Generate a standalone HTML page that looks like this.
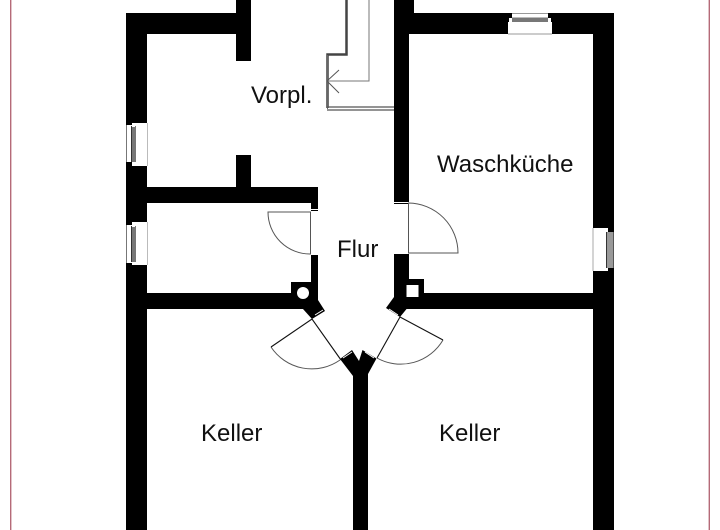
<!DOCTYPE html>
<html>
<head>
<meta charset="utf-8">
<style>
html,body{margin:0;padding:0;background:#fff}
svg{display:block}
text{font-family:"Liberation Sans",sans-serif;font-size:24px;fill:#111}
</style>
</head>
<body>
<svg width="720" height="530" viewBox="0 0 720 530" xmlns="http://www.w3.org/2000/svg">
<rect width="720" height="530" fill="#fff"/>
<!-- frame -->
<rect x="10" y="0" width="1.4" height="530" fill="#b56a78"/>
<rect x="708.6" y="0" width="1.4" height="530" fill="#b56a78"/>
<!-- walls -->
<g fill="#000">
<rect x="126" y="13" width="21" height="517"/>
<rect x="126" y="13" width="110" height="21"/>
<rect x="236" y="0" width="15" height="61"/>
<rect x="236" y="155" width="15" height="40"/>
<rect x="147" y="187" width="171" height="16"/>
<rect x="311" y="187" width="7" height="24"/>
<rect x="311" y="254" width="7" height="50"/>
<rect x="147" y="293" width="157" height="16"/>
<rect x="291" y="282" width="27" height="27"/>
<polygon points="318,300 325,311 312,319 303,309"/>
<rect x="394" y="0" width="15" height="204"/>
<rect x="394" y="0" width="20" height="13"/>
<rect x="409" y="13" width="205" height="21"/>
<rect x="593" y="13" width="21" height="517"/>
<rect x="394" y="253" width="15" height="47"/>
<rect x="400" y="279" width="24" height="30"/>
<rect x="409" y="293" width="184" height="16"/>
<polygon points="394,297 409,297 409,306 400,317 386,308"/>
<polygon points="340,359 352,350 359,361 362.500,350 376.500,358.500 368,374 368,530 353,530 353,376"/>
</g>
<!-- shaft openings -->
<circle cx="303" cy="293" r="6" fill="#fff"/>
<rect x="406.500" y="285" width="12" height="12" fill="#fff"/>
<!-- door jamb ticks -->
<g stroke="#fff" stroke-width="1" fill="none">
<path d="M311 209.500H318M311 254.500H318M394 202.500H409M394 253.500H409M315 315L323 310M398 315L389 309M343 358L352 352M365 352L374 358"/>
</g>
<!-- left windows -->
<rect x="127" y="125" width="5" height="37" fill="#fff"/>
<rect x="132" y="123" width="15" height="43" fill="#fff"/>
<rect x="127" y="225" width="5" height="38" fill="#fff"/>
<rect x="132" y="222" width="15" height="43" fill="#fff"/>
<rect x="126" y="125" width="1" height="37" fill="#777"/>
<rect x="126" y="225" width="1" height="38" fill="#777"/>
<rect x="147" y="123" width="1" height="43" fill="#bbb"/>
<rect x="147" y="222" width="1" height="43" fill="#bbb"/>
<rect x="131" y="126" width="5" height="36" fill="#777"/>
<rect x="131" y="226" width="5" height="36" fill="#777"/>
<rect x="131" y="126" width="1" height="36" fill="#333"/>
<rect x="131" y="226" width="1" height="36" fill="#333"/>
<rect x="132" y="123" width="3" height="4" fill="#fff"/>
<rect x="132" y="162" width="3" height="3" fill="#fff"/>
<rect x="132" y="223" width="3" height="4" fill="#fff"/>
<rect x="132" y="262" width="3" height="3" fill="#fff"/>
<!-- top window -->
<rect x="508" y="22" width="44" height="12" fill="#fff"/>
<rect x="512" y="13" width="36" height="5" fill="#fff"/>
<rect x="512" y="13" width="36" height="1" fill="#999"/>
<rect x="508" y="33.500" width="44" height="1" fill="#999"/>
<rect x="512" y="17.500" width="36" height="4.500" fill="#777"/>
<rect x="509" y="18" width="3" height="4" fill="#fff"/>
<rect x="548" y="18" width="3" height="4" fill="#fff"/>
<!-- right window -->
<rect x="593" y="228" width="13" height="43" fill="#fff"/>
<rect x="606" y="232" width="1" height="36" fill="#333"/>
<rect x="607" y="232" width="6" height="36" fill="#999"/>
<rect x="613" y="232" width="1" height="36" fill="#555"/>
<rect x="605" y="228" width="3" height="4" fill="#fff"/>
<rect x="605" y="268" width="3" height="3" fill="#fff"/>
<rect x="592.500" y="228" width="1" height="43" fill="#aaa"/>
<!-- stairs -->
<g fill="none">
<path d="M346.500 0V54.500H327.500V108" stroke="#444" stroke-width="2.500"/>
<path d="M327.500 55V109" stroke="#666" stroke-width="1"/>
<path d="M327 107H394M327 110H394" stroke="#555" stroke-width="1.300"/>
<path d="M369 0V81H327" stroke="#777" stroke-width="1"/>
<path d="M339 70L327 81L339 93" stroke="#555" stroke-width="1"/>
</g>
<!-- doors -->
<g fill="none" stroke="#555" stroke-width="1">
<path d="M268 212H310.500V254A42 42 0 0 1 268 212Z"/>
<path d="M408.500 203V253H458A50 50 0 0 0 408.500 203Z"/>
<path d="M271 347A49 49 0 0 0 340 360"/>
<path d="M443 340A49 49 0 0 1 377 358"/>
</g>
<g fill="none" stroke="#111" stroke-width="1.100">
<path d="M271 347L312 319L341 360"/>
<path d="M443 340L400 317L377 358"/>
</g>
<!-- labels -->
<text x="251" y="103">Vorpl.</text>
<text x="437" y="172">Waschküche</text>
<text x="337" y="257">Flur</text>
<text x="201" y="441">Keller</text>
<text x="439" y="441">Keller</text>
</svg>
</body>
</html>
